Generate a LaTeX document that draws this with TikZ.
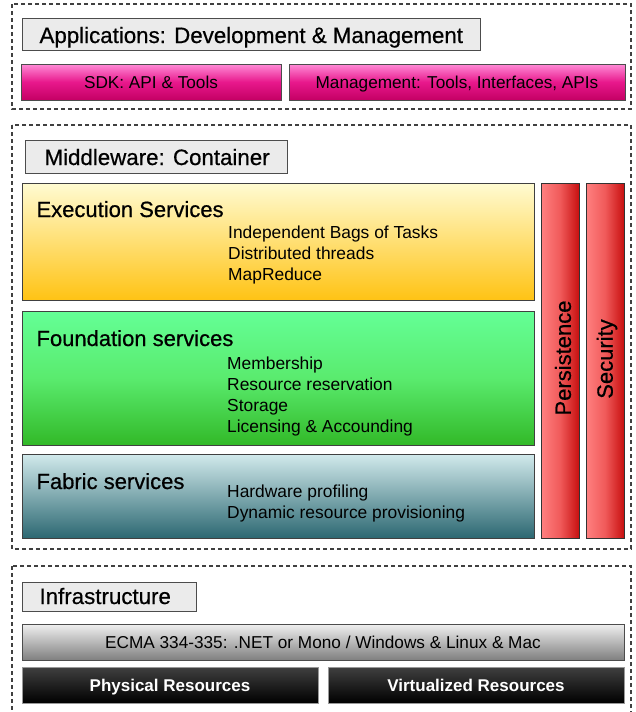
\documentclass[tikz,border=0pt]{standalone}
\usepackage{fontspec}
\setmainfont{Liberation Sans}
\newfontfamily\heavysans[FakeBold=0.6]{Liberation Sans}
\definecolor{pinktop}{RGB}{255,140,215}
\definecolor{pinkmid}{RGB}{232,24,140}
\definecolor{pinkbot}{RGB}{196,0,100}
\definecolor{exectop}{RGB}{255,251,210}
\definecolor{execbot}{RGB}{255,195,20}
\definecolor{foundtop}{RGB}{100,255,150}
\definecolor{foundmid}{RGB}{90,235,110}
\definecolor{foundbot}{RGB}{50,185,40}
\definecolor{fabtop}{RGB}{210,234,236}
\definecolor{fabbot}{RGB}{44,104,114}
\definecolor{redleft}{RGB}{255,128,128}
\definecolor{redmid}{RGB}{240,90,90}
\definecolor{redright}{RGB}{200,16,16}
\definecolor{headfill}{RGB}{235,235,235}
\begin{document}
\begin{tikzpicture}[x=1pt,y=-1pt,
  layer/.style={draw=black!75, line width=1.1pt, dash pattern=on 4pt off 3pt},
  headbox/.style={draw=black!70, line width=0.9pt, fill=headfill},
  pinkbar/.style={draw=black!70, line width=0.9pt, top color=pinktop, bottom color=pinkbot, middle color=pinkmid},
  svcbox/.style={draw=black!75, line width=0.9pt},
  redbar/.style={draw=black!80, line width=0.9pt, left color=redleft, right color=redright, middle color=redmid},
  greybar/.style={draw=black!70, line width=0.9pt, top color=black!6, bottom color=black!50},
  blackbar/.style={draw=black!40, line width=0.9pt, top color=black!75, bottom color=black},
  headtext/.style={font=\heavysans\fontsize{22.3}{26}\selectfont, anchor=base west},
  svctitle/.style={font=\heavysans\fontsize{22}{26}\selectfont, anchor=base west},
  itemtext/.style={font=\fontsize{17.4}{21}\selectfont, anchor=north west, align=left, inner sep=0pt},
  bartext/.style={font=\fontsize{17.2}{20}\selectfont, anchor=base},
  darktext/.style={text=white, font=\bfseries\fontsize{17}{20}\selectfont},
]
\useasboundingbox (0,0) rectangle (635,712);
\begin{scope}
\clip (0,0) rectangle (635,712);

% ---- Applications layer
\draw[layer] (12,4) rectangle (631,109);
\draw[headbox] (22,18) rectangle (480,50);
\node[headtext] (apps) at (36,43) {Applications: Development \& Management};
\draw[pinkbar] (21,64) rectangle (281,100);
\node[bartext] (sdk) at (151,88) {SDK: API \& Tools};
\draw[pinkbar] (289,64) rectangle (625,100);
\node[bartext] (mgmt) at (457,88) {Management: Tools, Interfaces, APIs};

% ---- Middleware layer
\draw[layer] (12,125) rectangle (631,549);
\draw[headbox] (25,140) rectangle (287,173);
\node[headtext] (mw) at (41,165) {Middleware: Container};

\draw[svcbox, top color=exectop, bottom color=execbot] (22,183) rectangle (534,300);
\node[svctitle] (exec) at (33,217) {Execution Services};
\node[itemtext] (execitems) at (228,226) {Independent Bags of Tasks\\Distributed threads\\MapReduce};

\draw[svcbox, top color=foundtop, bottom color=foundbot, middle color=foundmid] (22,311) rectangle (534,445);
\node[svctitle] (found) at (33,346) {Foundation services};
\node[itemtext] (founditems) at (227,357) {Membership\\Resource reservation\\Storage\\Licensing \& Accounding};

\draw[svcbox, top color=fabtop, bottom color=fabbot] (22,454) rectangle (534,538);
\node[svctitle] (fabric) at (33,489) {Fabric services};
\node[itemtext] (fabricitems) at (227,485) {Hardware profiling\\Dynamic resource provisioning};

\draw[redbar] (541,183) rectangle (579,538);
\node[svctitle, anchor=center, rotate=90] (pers) at (563,358) {Persistence};
\draw[redbar] (586,183) rectangle (624,538);
\node[svctitle, anchor=center, rotate=90] (sec) at (607,359) {Security};

% ---- Infrastructure layer
\draw[layer] (12,566) rectangle (631,730);
\draw[headbox] (22,582) rectangle (196,611);
\node[headtext] (infra) at (36,604) {Infrastructure};
\draw[greybar] (22,624) rectangle (624,660);
\node[bartext] (ecma) at (323,648) {ECMA 334-335: .NET or Mono / Windows \& Linux \& Mac};
\draw[blackbar] (22,667) rectangle (318,703);
\node[bartext, darktext] (phys) at (170,691) {Physical Resources};
\draw[blackbar] (328,667) rectangle (624,703);
\node[bartext, darktext] (virt) at (476,691) {Virtualized Resources};
\end{scope}
\end{tikzpicture}
\end{document}
